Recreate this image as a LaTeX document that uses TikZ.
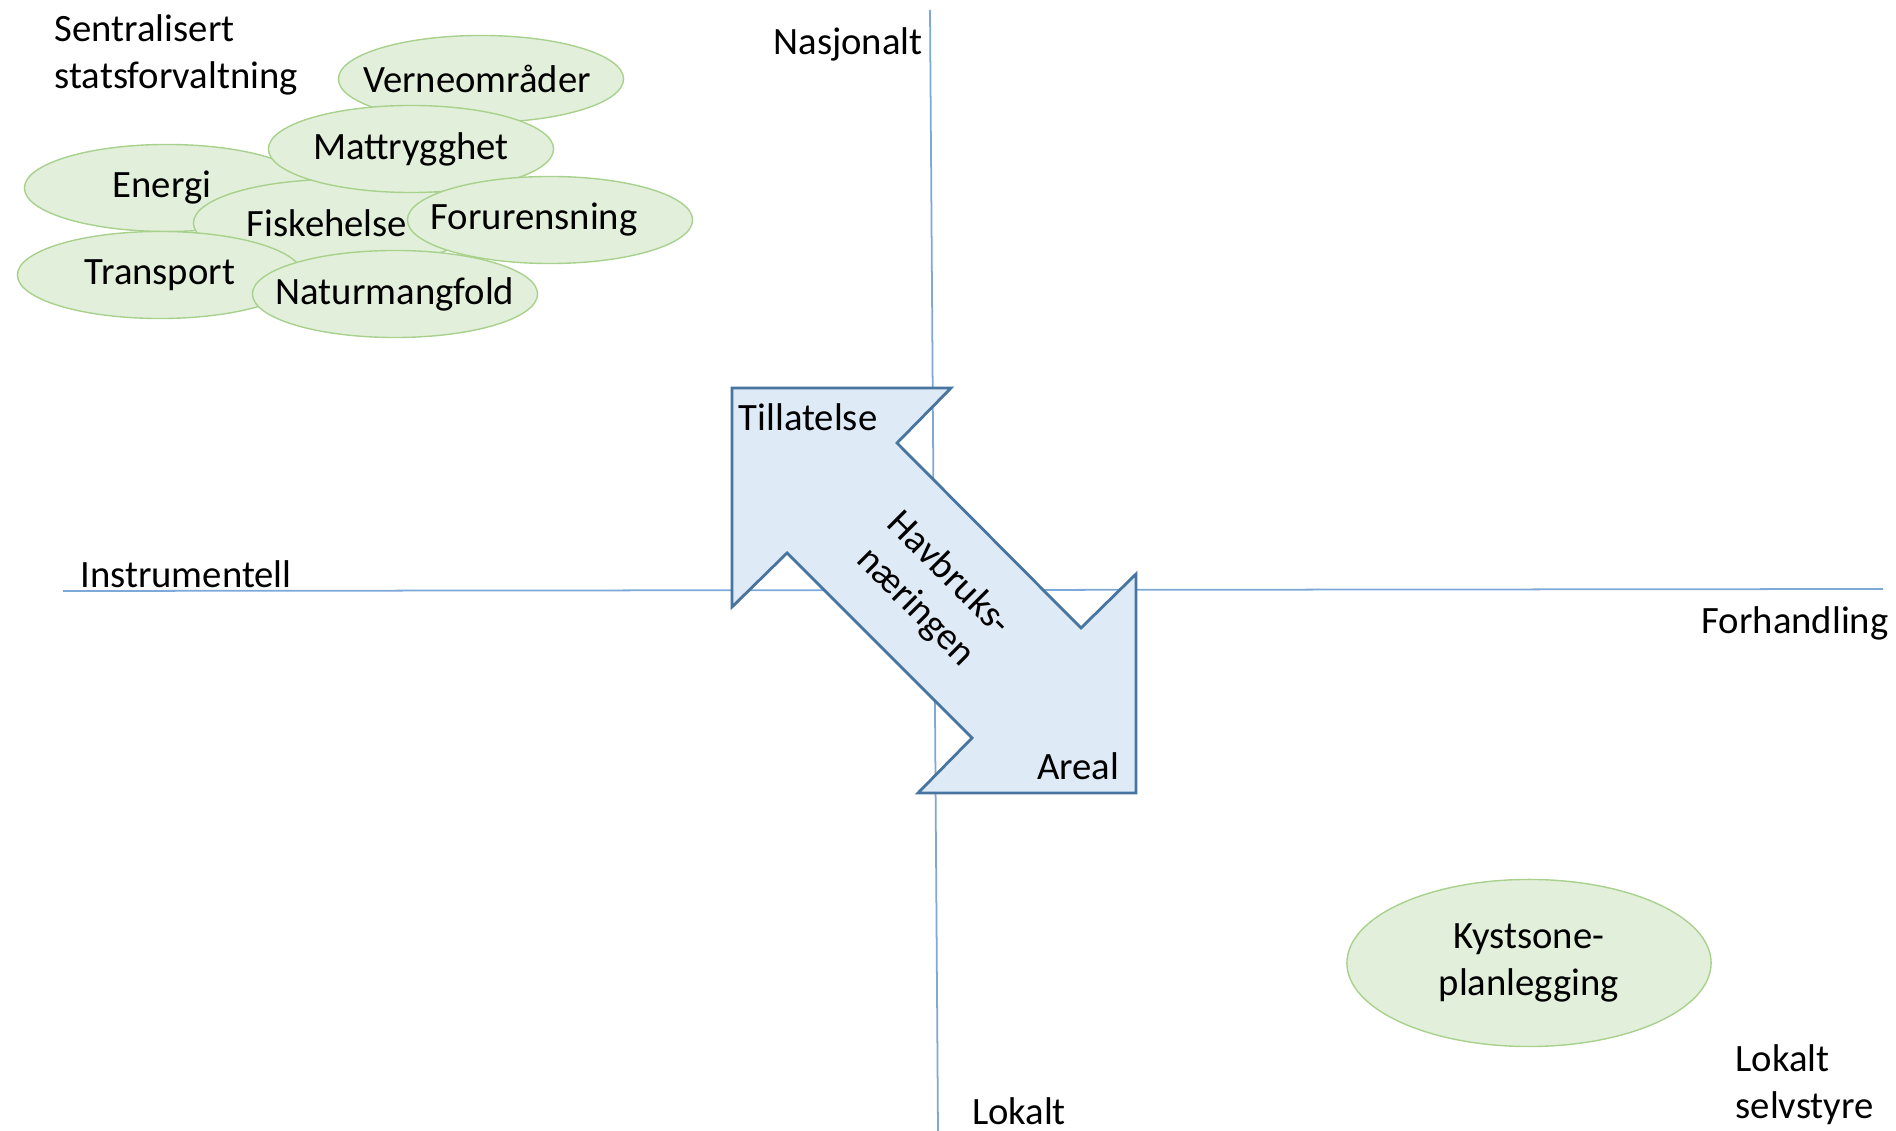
\documentclass[tikz,border=0pt]{standalone}
\usepackage{fontspec}
\setmainfont{Carlito}
\usepackage{tikz}
\usetikzlibrary{shapes}
\usetikzlibrary{positioning}
\definecolor{aksefarge}{RGB}{125,168,216}
\definecolor{gronnfyll}{RGB}{226,239,218}
\definecolor{gronnkant}{RGB}{169,209,142}
\definecolor{blafyll}{RGB}{222,235,247}
\definecolor{blakant}{RGB}{72,117,160}

\begin{document}
\begin{tikzpicture}[
  x=0.01cm, y=-0.01cm,
  font=\fontsize{11}{13.4}\selectfont,
  akse/.style={draw=aksefarge, line width=0.5pt},
  tema/.style={ellipse, draw=gronnkant, fill=gronnfyll, line width=0.4pt,
    inner ysep=0pt, inner xsep=-0.2cm, minimum width=2.85cm, minimum height=0.87cm},
  etikett/.style={inner sep=0pt, align=left}]
  \useasboundingbox (0,0) rectangle (1896,1131);
  \coordinate (topp) at (930,10);
  \coordinate (bunn) at (938,1131);
  \coordinate (vest) at (63,591);
  \coordinate (ost) at (1883,589);
  \draw[akse] (topp) -- (bunn);
  \draw[akse] (vest) -- (ost);

  \node[etikett, anchor=west] (sentral) at (54,55) {Sentralisert\\statsforvaltning};
  \node[etikett] (nasjonalt) at (848,44) {Nasjonalt};
  \node[etikett] (instrumentell) at (186,574) {Instrumentell};
  \node[etikett] (forhandling) at (1795,623) {Forhandling};
  \node[etikett] (lokalt) at (1019,1111) {Lokalt};
  \node[etikett, anchor=west] (selvstyre) at (1735,1085) {Lokalt\\selvstyre};

  \node[tema] (vern) at (481,79) {Verneområder\kern0.08cm};
  \node[tema] (energi) at (167,188) {Energi\kern0.1cm};
  \node[tema] (fisk) at (336,223) {\kern-0.18cm Fiskehelse};
  \node[tema] (mat) at (411,149) {Mattrygghet};
  \node[tema] (forurensning) at (550,220) {Forurensning\kern0.32cm};
  \node[tema] (transport) at (160,275) {Transport};
  \node[tema] (natur) at (395,294) {Naturmangfold};
  \node[tema, minimum width=3.64cm, minimum height=1.67cm, align=center]
    (kyst) at (1529,963) {Kystsone-\\planlegging};

  \draw[fill=blafyll, draw=blakant, line width=0.8pt]
    (732,388) -- (951,388) -- (897,443) -- (1081,628) -- (1136,574)
    -- (1136,793) -- (918,793) -- (972,738) -- (787,553) -- (732,607) -- cycle;
  \node[etikett] (tillatelse) at (808,417) {Tillatelse};
  \node[etikett] (areal) at (1078,766) {Areal};
  \node[etikett, align=center, rotate=-45] (havbruk) at (932,591) {Havbruks-\\næringen};
\end{tikzpicture}
\end{document}
